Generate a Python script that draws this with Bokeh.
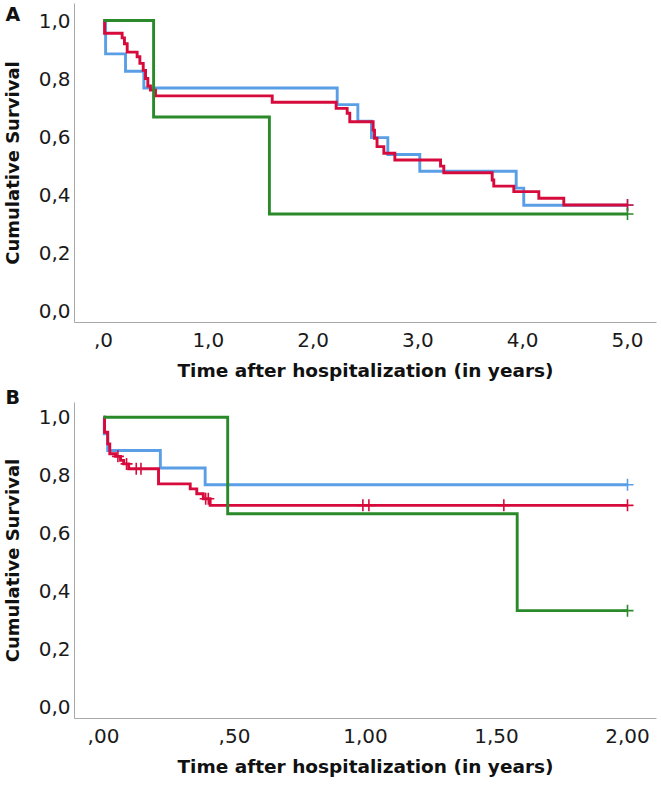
import numpy as np
from bokeh.plotting import figure
from bokeh.layouts import column
from bokeh.models import FixedTicker, Label, Range1d
from bokeh.embed import file_html
from bokeh.resources import INLINE

# ---------------- Panel A (5 years) ----------------
a_blue_t = [0, 0.02, 0.21, 0.385, 2.23, 2.427, 2.557, 2.713, 3.018, 3.938, 4.01]
a_blue_s = [1.0, 0.885, 0.825, 0.767, 0.71, 0.653, 0.596, 0.538, 0.48, 0.422, 0.363]
a_blue_cens = [5.0]

a_red_t = [0, 0.01, 0.178, 0.2, 0.226, 0.321, 0.347, 0.379, 0.401, 0.423, 0.448, 0.496,
           1.61, 2.22, 2.325, 2.35, 2.573, 2.586, 2.61, 2.675, 2.78, 3.216, 3.247,
           3.709, 3.724, 3.915, 4.154, 4.392]
a_red_s = [1.0, 0.956, 0.94, 0.92, 0.891, 0.875, 0.852, 0.828, 0.8, 0.774, 0.76, 0.74,
           0.718, 0.697, 0.68, 0.651, 0.622, 0.594, 0.565, 0.542, 0.519, 0.498, 0.475,
           0.45, 0.429, 0.41, 0.387, 0.364]
a_red_cens = [5.0]

a_green_t = [0, 0.478, 1.583]
a_green_s = [1.0, 0.667, 0.333]
a_green_cens = [5.0]

a_end = 5.0
a_xticks = [0, 1, 2, 3, 4, 5]
a_xlabels = [",0", "1,0", "2,0", "3,0", "4,0", "5,0"]

# ---------------- Panel B (2 years) ----------------
b_blue_t = [0, 0.003, 0.016, 0.217, 0.388]
b_blue_s = [1.0, 0.943, 0.885, 0.825, 0.767]
b_blue_cens = [2.0]

b_red_t = [0, 0.004, 0.016, 0.024, 0.046, 0.065, 0.077, 0.096, 0.21, 0.331, 0.356, 0.381, 0.407]
b_red_s = [1.0, 0.948, 0.908, 0.874, 0.865, 0.851, 0.839, 0.822, 0.77, 0.753, 0.736, 0.719, 0.696]
b_red_cens = [0.055, 0.088, 0.125, 0.143, 0.39, 0.40, 0.99, 1.013, 1.528, 2.0]

b_green_t = [0, 0.474, 1.579]
b_green_s = [1.0, 0.667, 0.333]
b_green_cens = [2.0]

b_end = 2.0
b_xticks = [0, 0.5, 1.0, 1.5, 2.0]
b_xlabels = [",00", ",50", "1,00", "1,50", "2,00"]

yticks = [0, 0.2, 0.4, 0.6, 0.8, 1.0]
ylabels = ["0,0", "0,2", "0,4", "0,6", "0,8", "1,0"]

BLUE = "#5A9EE6"
RED = "#D70A3C"
GREEN = "#2A8A2A"
AXIS = "#A8A8A8"
FONT = "DejaVu Sans"
W = 661
YPX = 290.0          # pixels per unit of survival
AX_LEFT = 74         # canvas x of the vertical axis line
AX_RIGHT = 656       # canvas x where the horizontal axis line ends
X0 = 103             # canvas x of time zero
XEND = 627           # canvas x of the last follow-up time


def surv_at(t, s, c):
    t = np.asarray(t)
    idx = np.searchsorted(t, c, side="right") - 1
    return [s[i] for i in idx]


def make_panel(curves, end, xticks, xlabels, height, y1_px, ybot_px, ytop_px, letter, letter_y):
    xpx = (XEND - X0) / end
    x_start = -X0 / xpx
    x_end = x_start + W / xpx
    y_end = 1 + y1_px / YPX
    y_start = y_end - height / YPX
    x_axis_loc = 1 - (ybot_px - y1_px) / YPX
    y_axis_top = 1 - (ytop_px - y1_px) / YPX
    y_axis_loc = x_start + AX_LEFT / xpx
    x_axis_right = x_start + AX_RIGHT / xpx

    p = figure(width=W, height=height, x_range=Range1d(x_start, x_end),
               y_range=Range1d(y_start, y_end),
               output_backend="svg", toolbar_location=None, min_border=0)
    p.outline_line_color = None
    p.xgrid.grid_line_color = None
    p.ygrid.grid_line_color = None
    p.background_fill_color = "white"
    p.border_fill_color = "white"

    for t, s, cens, col in curves:
        xs = list(t) + [end]
        ys = list(s) + [s[-1]]
        p.step(xs, ys, mode="after", line_width=2.9, line_color=col, line_join="miter")
        p.scatter(cens, surv_at(t, s, cens), marker="cross", size=12,
                  line_width=1.6, line_color=col)

    for ax in (p.xaxis[0], p.yaxis[0]):
        ax.axis_line_color = AXIS
        ax.axis_line_width = 1
        ax.major_tick_line_color = None
        ax.minor_tick_line_color = None
        ax.major_tick_out = 0
        ax.major_tick_in = 0
        ax.minor_tick_out = 0
        ax.minor_tick_in = 0
        ax.major_label_text_font = FONT
        ax.major_label_text_font_size = "20px"
        ax.major_label_text_color = "#1a1a1a"
        ax.axis_label_text_font = FONT
        ax.axis_label_text_font_style = "bold"
        ax.axis_label_text_color = "#111111"

    p.xaxis.fixed_location = x_axis_loc
    p.xaxis.bounds = (y_axis_loc, x_axis_right)
    p.xaxis.ticker = FixedTicker(ticks=xticks)
    ov = {float(k): v for k, v in zip(xticks, xlabels)}
    ov.update({int(k): v for k, v in zip(xticks, xlabels) if float(k).is_integer()})
    p.xaxis.major_label_overrides = ov
    p.xaxis.major_label_standoff = 10
    p.xaxis.axis_label = "Time after hospitalization (in years)"
    p.xaxis.axis_label_text_font_size = "18.5px"
    p.xaxis.axis_label_standoff = 10

    p.yaxis.fixed_location = y_axis_loc
    p.yaxis.bounds = (x_axis_loc, y_axis_top)
    p.yaxis.ticker = FixedTicker(ticks=yticks)
    ovy = {float(k): v for k, v in zip(yticks, ylabels)}
    ovy.update({0: "0,0", 1: "1,0"})
    p.yaxis.major_label_overrides = ovy
    p.yaxis.major_label_standoff = 4
    p.yaxis.axis_label = "Cumulative Survival"
    p.yaxis.axis_label_text_font_size = "18px"
    p.yaxis.axis_label_standoff = 13

    p.add_layout(Label(x=5, y=letter_y, x_units="canvas", y_units="canvas",
                       text=letter, text_font=FONT, text_font_size="19px",
                       text_font_style="bold", text_baseline="top", text_align="left",
                       text_color="#111111"))
    return p


# canvas A: page y 0..384 ; canvas B: page y 384..788
pa = make_panel(
    [(a_blue_t, a_blue_s, a_blue_cens, BLUE),
     (a_red_t, a_red_s, a_red_cens, RED),
     (a_green_t, a_green_s, a_green_cens, GREEN)],
    a_end, a_xticks, a_xlabels,
    384, 20, 322, 3, "A", 2)

pb = make_panel(
    [(b_blue_t, b_blue_s, b_blue_cens, BLUE),
     (b_red_t, b_red_s, b_red_cens, RED),
     (b_green_t, b_green_s, b_green_cens, GREEN)],
    b_end, b_xticks, b_xlabels,
    404, 32.7, 334, 18, "B", 1)

layout = column(pa, pb, spacing=0)
open("out.html", "w").write(file_html(layout, INLINE))
